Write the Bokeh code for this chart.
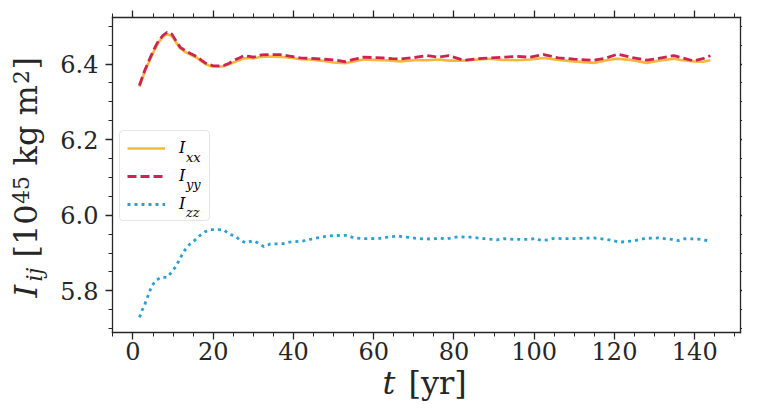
import math
from bokeh.plotting import figure
from bokeh.models import (Range1d, LinearAxis, SingleIntervalTicker, NumeralTickFormatter,
                          CustomJSTickFormatter, Label, Legend, LegendItem)
from bokeh.embed import file_html
from bokeh.resources import INLINE

# ---------------- data ----------------
t_xy = [1.6, 3.0, 4.3, 5.4, 6.4, 7.5, 8.5, 9.7, 10.8, 11.8, 13.0, 14.3, 16.0, 17.2, 18.4,
        19.9, 21.5, 22.6, 24.0, 25.0, 26.5, 27.6, 29.0, 30.0, 32.0, 34.0, 36.7, 39.0, 41.7,
        44.0, 47.0, 50.0, 52.9, 55.0, 57.4, 60.0, 62.4, 64.5, 66.6, 70.0, 73.3, 76.0, 78.7,
        82.4, 86.0, 89.0, 92.0, 95.7, 99.0, 102.4, 106.0, 109.9, 114.9, 118.0, 120.7, 124.0,
        128.1, 131.0, 134.8, 137.0, 139.8, 142.0, 143.9]
I_xx = [6.340, 6.382, 6.413, 6.438, 6.458, 6.472, 6.479, 6.474, 6.456, 6.441, 6.432, 6.425,
        6.416, 6.406, 6.398, 6.393, 6.393, 6.394, 6.399, 6.404, 6.410, 6.415, 6.416, 6.415,
        6.419, 6.420, 6.419, 6.417, 6.413, 6.412, 6.409, 6.404, 6.402, 6.407, 6.412, 6.411,
        6.410, 6.409, 6.407, 6.410, 6.410, 6.412, 6.409, 6.409, 6.412, 6.414, 6.411, 6.410,
        6.412, 6.416, 6.411, 6.407, 6.403, 6.410, 6.414, 6.411, 6.403, 6.409, 6.414, 6.410,
        6.407, 6.406, 6.410]
I_yy = [6.343, 6.385, 6.417, 6.442, 6.462, 6.476, 6.484, 6.479, 6.460, 6.444, 6.436, 6.428,
        6.419, 6.409, 6.400, 6.396, 6.395, 6.396, 6.402, 6.409, 6.416, 6.422, 6.420, 6.418,
        6.424, 6.425, 6.425, 6.421, 6.416, 6.415, 6.413, 6.411, 6.406, 6.412, 6.418, 6.417,
        6.416, 6.414, 6.413, 6.417, 6.422, 6.418, 6.422, 6.410, 6.414, 6.416, 6.418, 6.420,
        6.418, 6.425, 6.416, 6.413, 6.410, 6.416, 6.426, 6.418, 6.410, 6.415, 6.422, 6.416,
        6.408, 6.414, 6.422]
t_zz = [1.65, 2.2, 2.9, 3.5, 4.1, 4.7, 5.6, 7.0, 8.5, 9.5, 10.5, 11.4, 12.2, 13.0, 14.0,
        15.3, 16.5, 17.9, 19.4, 21.1, 22.7, 24.0, 25.5, 26.7, 28.2, 29.9, 31.3, 32.6, 34.2,
        37.4, 39.0, 42.4, 45.4, 48.4, 51.7, 53.5, 55.0, 58.3, 61.7, 63.3, 66.2, 69.8, 71.5,
        74.8, 76.4, 77.9, 80.9, 84.2, 87.6, 90.7, 92.4, 95.6, 98.6, 100.3, 101.8, 103.4,
        105.0, 108.3, 111.5, 114.8, 118.2, 121.3, 124.6, 127.7, 131.0, 134.3, 135.8, 137.4,
        140.8, 143.9]
I_zz = [5.730, 5.747, 5.763, 5.780, 5.797, 5.813, 5.827, 5.836, 5.836, 5.848, 5.862, 5.879,
        5.895, 5.909, 5.922, 5.933, 5.945, 5.956, 5.962, 5.962, 5.961, 5.950, 5.945, 5.934,
        5.927, 5.933, 5.926, 5.917, 5.924, 5.925, 5.929, 5.932, 5.939, 5.945, 5.947, 5.947,
        5.940, 5.938, 5.939, 5.942, 5.945, 5.940, 5.938, 5.937, 5.940, 5.937, 5.943, 5.942,
        5.938, 5.935, 5.938, 5.936, 5.936, 5.939, 5.933, 5.935, 5.939, 5.938, 5.939, 5.940,
        5.936, 5.929, 5.932, 5.939, 5.940, 5.936, 5.933, 5.938, 5.937, 5.932]

legend_subscripts = ["xx", "yy", "zz"]
x_tick_interval = 20
y_tick_interval = 0.2
x_view = (-5.1, 151.4)     # visible axis extent
y_view = (5.690, 6.523)

# ---------------- styling / geometry ----------------
FONT = "DejaVu Serif"
INK = "#262626"
C_XX, C_YY, C_ZZ = "#F6B73C", "#CB2352", "#2B9FD8"

W, H = 742, 404
BL, BR, BT, BB = 112, 2, 17, 72      # box of the axes inside the canvas
kx = (x_view[1] - x_view[0]) / (W - BL - BR)
ky = (y_view[1] - y_view[0]) / (H - BT - BB)

p = figure(width=W, height=H, output_backend="svg", toolbar_location=None,
           x_range=Range1d(x_view[0] - BL * kx, x_view[1] + BR * kx),
           y_range=Range1d(y_view[0] - BB * ky, y_view[1] + BT * ky),
           x_axis_location=None, y_axis_location=None,
           min_border=0, min_border_left=0, min_border_right=0,
           min_border_top=0, min_border_bottom=0)
p.background_fill_color = "white"
p.border_fill_color = "white"
p.grid.visible = False
p.outline_line_color = None

blank = CustomJSTickFormatter(code="return ''")


def make_axis(ticker_step, loc, bounds, labels):
    ax = LinearAxis(ticker=SingleIntervalTicker(interval=ticker_step, num_minor_ticks=4),
                    fixed_location=loc, bounds=bounds)
    ax.axis_line_color = INK
    ax.axis_line_width = 1.3
    ax.axis_line_cap = "square"
    ax.major_tick_line_color = INK
    ax.minor_tick_line_color = INK
    ax.major_tick_line_width = 1.3
    ax.minor_tick_line_width = 1.0
    ax.major_tick_in = 0
    ax.major_tick_out = 7
    ax.minor_tick_in = 0
    ax.minor_tick_out = 4
    ax.axis_label = None
    if labels:
        ax.major_label_text_font = FONT
        ax.major_label_text_font_size = "24px"
        ax.major_label_text_color = INK
    else:
        ax.formatter = blank
        ax.major_label_text_font_size = "1px"
        ax.major_label_standoff = 0
    return ax


bottom = make_axis(x_tick_interval, y_view[0], x_view, True)
bottom.major_label_standoff = 2
top = make_axis(x_tick_interval, y_view[1], x_view, False)
left = make_axis(y_tick_interval, x_view[0], y_view, True)
left.formatter = NumeralTickFormatter(format="0.0")
left.major_label_standoff = 7
right = make_axis(y_tick_interval, x_view[1], y_view, False)
p.add_layout(bottom, "below")
p.add_layout(top, "above")
p.add_layout(left, "left")
p.add_layout(right, "right")

# ---------------- lines ----------------
r_xx = p.line(t_xy, I_xx, line_color=C_XX, line_width=2.6)
r_yy = p.line(t_xy, I_yy, line_color=C_YY, line_width=2.8, line_dash="9 4")
r_zz = p.line(t_zz, I_zz, line_color=C_ZZ, line_width=2.8, line_dash="3 4")

# ---------------- legend ----------------
BOX_X, BOX_Y = 119, 183          # legend box bottom-left (canvas px, y up)
PAD, GW, GH, SP, STAND, LW = 7, 38, 18, 9, 14, 23
legend = Legend(items=[LegendItem(label="I", renderers=[r]) for r in (r_xx, r_yy, r_zz)],
                location=(BOX_X, BOX_Y), padding=PAD, spacing=SP, margin=0,
                glyph_width=GW, glyph_height=GH, label_height=GH, label_width=LW,
                label_standoff=STAND, label_text_font=FONT, label_text_font_style="italic",
                label_text_font_size="16px", label_text_color="black",
                border_line_color="#cccccc", border_line_width=1.2,
                background_fill_color="white", background_fill_alpha=0.0)
try:
    legend.border_radius = 4
except Exception:
    pass
p.add_layout(legend)

lg_top = BOX_Y + 2 * PAD + 3 * GH + 2 * SP
for i, sub in enumerate(legend_subscripts):
    row_c = lg_top - PAD - GH / 2 - i * (GH + SP + 0.5)
    p.add_layout(Label(x=BOX_X + PAD + GW + STAND + 7.5, y=row_c - 5.5,
                       x_units="screen", y_units="screen", text=sub, level="overlay",
                       text_font=FONT, text_font_style="italic", text_font_size="13px",
                       text_color="black", text_baseline="alphabetic", text_align="left"))

SHIFT = 0.4   # empirical baseline correction, in em


def lab(txt, x, y, size, italic=False, angle=0.0):
    d = SHIFT * size
    if angle:
        x = x - d
    else:
        y = y + d
    p.add_layout(Label(x=x, y=y, x_units="screen", y_units="screen", text=txt,
                       text_font=FONT, text_font_size=f"{size}px",
                       text_font_style="italic" if italic else "normal",
                       text_color=INK, angle=angle, text_align="left",
                       text_baseline="alphabetic"))


# ---------------- y axis title: I_ij [10^45 kg m^2] ----------------
S, s = 32, 22
yb = 38
y0 = 107
A = math.pi / 2
lab("I", yb, y0 + 0, S, italic=True, angle=A)
lab("ij", yb + 5, y0 + 16, s, italic=True, angle=A)
lab("[10", yb, y0 + 40, S, angle=A)
lab("45", yb - 9, y0 + 93.5, s, angle=A)
lab("kg m", yb, y0 + 132, S, angle=A)
lab("2", yb - 9, y0 + 213.5, s, angle=A)
lab("]", yb, y0 + 228, S, angle=A)

# ---------------- x axis title: t [yr] ----------------
SX = 32
xb = 9
x0 = 382
lab("t", x0, xb, SX, italic=True)
lab("[yr]", x0 + 26, xb, SX)

open("out.html", "w").write(file_html(p, INLINE))
